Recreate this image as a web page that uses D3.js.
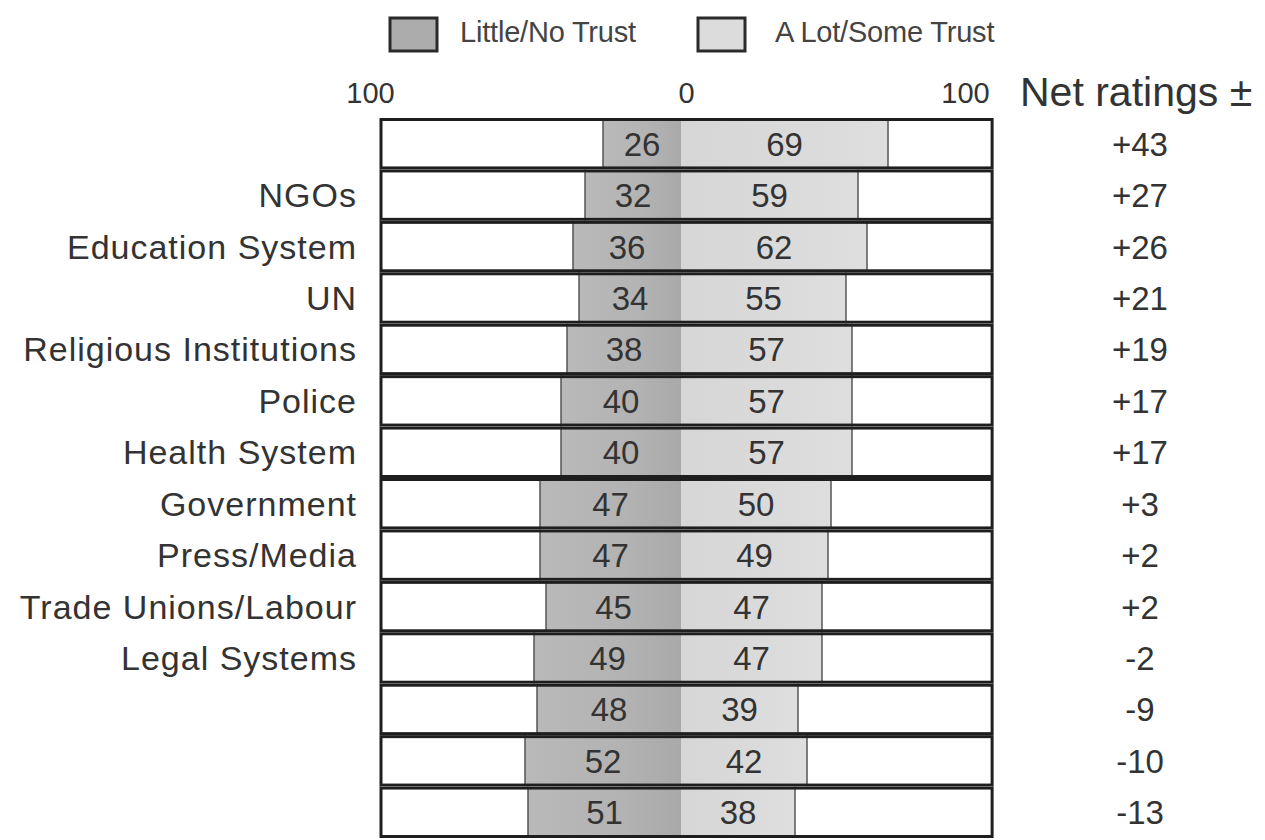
<!DOCTYPE html>
<html>
<head>
<meta charset="utf-8">
<script src="https://cdn.jsdelivr.net/npm/d3@7"></script>
<style>
  html, body { margin: 0; padding: 0; background: #fff; }
  svg { display: block; font-family: "Liberation Sans", Arial, sans-serif; }
</style>
</head>
<body>
<svg id="chart" width="1265" height="840"></svg>
<script>
// ---- data ----
const categories = ["", "NGOs", "Education System", "UN", "Religious Institutions", "Police",
  "Health System", "Government", "Press/Media", "Trade Unions/Labour", "Legal Systems", "", "", ""];
const distrust = [26, 32, 36, 34, 38, 40, 40, 47, 47, 45, 49, 48, 52, 51];
const trust    = [69, 59, 62, 55, 57, 57, 57, 50, 49, 47, 47, 39, 42, 38];
const netRatings = ["+43", "+27", "+26", "+21", "+19", "+17", "+17", "+3", "+2", "+2", "-2", "-9", "-10", "-13"];
const axisTicks = [-100, 0, 100];
const legendLabels = ["Little/No Trust", "A Lot/Some Trust"];

// ---- layout ----
const svg = d3.select("#chart");
const x = d3.scaleLinear().domain([-100, 100]).range([381, 981]);
const frameRight = x(103.7);
const y = d3.scaleBand().domain(d3.range(categories.length)).range([118, 838]).padding(0);

const defs = svg.append("defs");
const g1 = defs.append("linearGradient").attr("id", "gLeft").attr("x1", "0").attr("x2", "1");
g1.append("stop").attr("offset", "0%").attr("stop-color", "#b9b9b9");
g1.append("stop").attr("offset", "60%").attr("stop-color", "#b3b3b3");
g1.append("stop").attr("offset", "100%").attr("stop-color", "#a9a9a9");
const g2 = defs.append("linearGradient").attr("id", "gRight").attr("x1", "0").attr("x2", "1");
g2.append("stop").attr("offset", "0%").attr("stop-color", "#d6d6d6");
g2.append("stop").attr("offset", "100%").attr("stop-color", "#dedede");

// ---- legend ----
const legendX = [390, 698];
const legendTextX = [460, 775];
const legendFill = ["#acacac", "#dcdcdc"];
legendLabels.forEach((lab, i) => {
  svg.append("rect").attr("x", legendX[i]).attr("y", 18).attr("width", 47).attr("height", 33)
    .attr("fill", legendFill[i]).attr("stroke", "#2a2a2a").attr("stroke-width", 3);
  svg.append("text").attr("x", legendTextX[i]).attr("y", 42).attr("font-size", 29)
    .attr("fill", "#444").attr("letter-spacing", -0.2).text(lab);
});

// ---- top axis ----
const axis = d3.axisTop(x).tickValues(axisTicks).tickSize(0).tickPadding(0)
  .tickFormat(d => Math.abs(d));
const axG = svg.append("g").attr("transform", "translate(0,103)").call(axis);
axG.select(".domain").remove();
axG.selectAll("text").attr("font-size", 29).attr("fill", "#333")
  .attr("font-family", "'Liberation Sans', Arial, sans-serif")
  .attr("dx", d => d === 0 ? 5 : (d < 0 ? -11 : -16));

// ---- rows ----
const rows = svg.append("g").selectAll("g").data(categories).join("g")
  .attr("transform", (d, i) => `translate(0,${y(i)})`);
const bh = y.bandwidth();

rows.append("rect").attr("x", x(-100)).attr("y", 0)
  .attr("width", frameRight - x(-100)).attr("height", bh)
  .attr("fill", "#fff");

rows.append("rect").attr("class", "neg")
  .attr("x", (d, i) => x(-distrust[i])).attr("y", 1)
  .attr("width", (d, i) => x(0) - x(-distrust[i])).attr("height", bh - 2)
  .attr("fill", "url(#gLeft)");
rows.append("rect").attr("class", "pos")
  .attr("x", x(0)).attr("y", 1)
  .attr("width", (d, i) => x(trust[i]) - x(0)).attr("height", bh - 2)
  .attr("fill", "url(#gRight)");
// bar end lines
rows.append("line").attr("x1", (d, i) => x(-distrust[i])).attr("x2", (d, i) => x(-distrust[i]))
  .attr("y1", 0).attr("y2", bh).attr("stroke", "#555").attr("stroke-width", 1.5);
rows.append("line").attr("x1", (d, i) => x(trust[i])).attr("x2", (d, i) => x(trust[i]))
  .attr("y1", 0).attr("y2", bh).attr("stroke", "#555").attr("stroke-width", 1.5);

// frame
rows.append("rect").attr("x", x(-100)).attr("y", 1.5)
  .attr("width", frameRight - x(-100)).attr("height", bh - 3)
  .attr("fill", "none").attr("stroke", "#1e1e1e").attr("stroke-width", 3);

// bar value labels
rows.append("text").attr("x", (d, i) => (x(-distrust[i]) + x(0)) / 2).attr("y", bh / 2 + 12)
  .attr("text-anchor", "middle").attr("font-size", 33).attr("fill", "#333")
  .text((d, i) => distrust[i]);
rows.append("text").attr("x", (d, i) => (x(trust[i]) + x(0)) / 2).attr("y", bh / 2 + 12)
  .attr("text-anchor", "middle").attr("font-size", 33).attr("fill", "#333")
  .text((d, i) => trust[i]);

// category labels
rows.append("text").attr("x", 357).attr("y", bh / 2 + 12)
  .attr("text-anchor", "end").attr("font-size", 34).attr("fill", "#333")
  .attr("letter-spacing", 1)
  .text(d => d);

// net ratings
svg.append("text").attr("x", 1020).attr("y", 106).attr("font-size", 41).attr("fill", "#333")
  .text("Net ratings ±");
rows.append("text").attr("x", 1140).attr("y", bh / 2 + 12)
  .attr("text-anchor", "middle").attr("font-size", 33).attr("fill", "#333")
  .text((d, i) => netRatings[i]);
</script>
</body>
</html>
